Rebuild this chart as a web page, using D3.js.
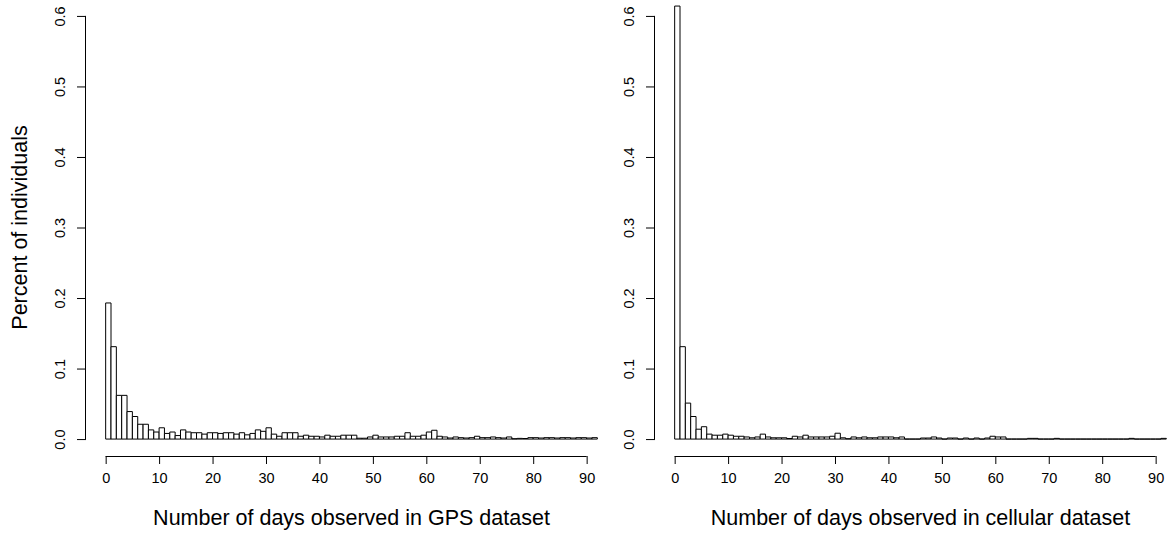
<!DOCTYPE html>
<html>
<head>
<meta charset="utf-8">
<script src="https://cdn.jsdelivr.net/npm/d3@7/dist/d3.min.js"></script>
<style>
  html, body { margin: 0; padding: 0; background: #fff; }
  svg { display: block; }
  text { font-family: "Liberation Sans", Arial, sans-serif; fill: #000; }
</style>
</head>
<body>
<svg id="chart" width="1169" height="535"></svg>
<script>
// Histogram bins: one-day bins starting at 0, 1, 2, ... 91
const binStarts = [
  0,1,2,3,4,5,6,7,8,9,10,11,12,13,14,15,16,17,18,19,20,21,22,23,24,25,26,27,28,29,
  30,31,32,33,34,35,36,37,38,39,40,41,42,43,44,45,46,47,48,49,50,51,52,53,54,55,56,57,58,59,
  60,61,62,63,64,65,66,67,68,69,70,71,72,73,74,75,76,77,78,79,80,81,82,83,84,85,86,87,88,89,
  90,91
];

// Share of individuals by number of observed days, GPS dataset
const gpsShare = [
  0.193,0.131,0.062,0.062,0.039,0.032,0.021,0.021,0.013,0.010,
  0.016,0.008,0.010,0.005,0.013,0.010,0.009,0.009,0.007,0.009,
  0.009,0.008,0.009,0.009,0.007,0.009,0.006,0.008,0.013,0.011,
  0.016,0.007,0.004,0.009,0.009,0.009,0.004,0.0055,0.004,0.004,
  0.003,0.0055,0.004,0.004,0.0055,0.0055,0.0055,0.0012,0.0012,0.003,
  0.0055,0.003,0.003,0.003,0.004,0.004,0.009,0.004,0.004,0.0055,
  0.010,0.0125,0.004,0.003,0.0015,0.003,0.002,0.0015,0.002,0.004,
  0.002,0.002,0.003,0.002,0.0015,0.003,0.0005,0.001,0.0008,0.002,
  0.002,0.0015,0.002,0.002,0.0015,0.002,0.002,0.0015,0.002,0.002,
  0.0015,0.002
];

// Share of individuals by number of observed days, cellular dataset
const cellShare = [
  0.614,0.131,0.051,0.032,0.014,0.0175,0.007,0.0055,0.0055,0.007,
  0.0055,0.004,0.004,0.003,0.0018,0.003,0.007,0.003,0.0018,0.0018,
  0.0018,0.0008,0.004,0.003,0.0055,0.003,0.003,0.003,0.003,0.004,
  0.0083,0.0018,0.0005,0.003,0.0018,0.003,0.0018,0.0018,0.003,0.003,
  0.003,0.0018,0.003,0,0,0,0.0015,0.0015,0.003,0.0015,
  0,0.0015,0.0015,0,0.0015,0,0.0015,0,0.0015,0.004,
  0.003,0.003,0,0,0,0,0.001,0.001,0,0,
  0,0.001,0,0,0,0,0,0,0,0,
  0,0,0,0,0,0.001,0,0,0,0,
  0,0.001
];

const xTicks = [0,10,20,30,40,50,60,70,80,90];
const yTicks = [0.0,0.1,0.2,0.3,0.4,0.5,0.6];
const xTitles = ["Number of days observed in GPS dataset", "Number of days observed in cellular dataset"];
const yTitle = "Percent of individuals";

const svg = d3.select("#chart");

// Each panel: x range 0..92 and y range 0..0.6, padded by 4% on each side
const xDomain = [-3.68, 95.68];
const yDomain = [-0.024, 0.624];

const panels = [
  { left: 86,  right: 617,  values: gpsShare,  title: xTitles[0], ylab: yTitle },
  { left: 655, right: 1186, values: cellShare, title: xTitles[1], ylab: null }
];

const plotTop = -1, plotBottom = 456;

panels.forEach(p => {
  const x = d3.scaleLinear().domain(xDomain).range([p.left, p.right]);
  const y = d3.scaleLinear().domain(yDomain).range([plotBottom, plotTop]);
  const g = svg.append("g");

  // bars drawn as closed paths so empty bins still show as a baseline segment
  g.selectAll("path.bar")
    .data(binStarts.map((b, i) => ({ x0: b, x1: b + 1, v: p.values[i] })))
    .join("path")
    .attr("class", "bar")
    .attr("d", d => {
      const xa = x(d.x0), xb = x(d.x1), y0 = y(0), y1 = y(d.v);
      return `M${xa},${y0}V${y1}H${xb}V${y0}Z`;
    })
    .attr("fill", "#fff")
    .attr("stroke", "#000")
    .attr("stroke-width", 1);

  // x axis
  const xAxis = d3.axisBottom(x).tickValues(xTicks).tickSize(8).tickPadding(9)
    .tickFormat(d3.format("d"));
  const gx = g.append("g").attr("transform", `translate(0,${plotBottom})`).call(xAxis);
  gx.select(".domain").attr("d", `M${x(0)},0.5H${x(90)}`).attr("stroke", "#000");
  gx.selectAll(".tick line").attr("stroke", "#000");
  gx.selectAll(".tick text")
    .attr("font-size", "14.5px")
    .attr("font-family", "Liberation Sans, Arial, sans-serif")
    .attr("fill", "#000");

  // y axis with labels turned to read bottom-to-top
  const yAxis = d3.axisLeft(y).tickValues(yTicks).tickSize(9).tickFormat(d3.format(".1f"));
  const gy = g.append("g").attr("transform", `translate(${p.left},0)`).call(yAxis);
  gy.select(".domain").attr("d", `M-0.5,${y(0)}V${y(0.6)}`).attr("stroke", "#000");
  gy.selectAll(".tick line").attr("stroke", "#000");
  gy.selectAll(".tick text")
    .attr("font-size", "14.5px")
    .attr("font-family", "Liberation Sans, Arial, sans-serif")
    .attr("fill", "#000")
    .attr("x", null).attr("dy", null)
    .attr("text-anchor", "middle")
    .attr("transform", "translate(-21,0) rotate(-90)");

  // x axis title
  g.append("text")
    .attr("x", (p.left + p.right) / 2)
    .attr("y", 525)
    .attr("text-anchor", "middle")
    .attr("font-size", "21.5px")
    .text(p.title);

  // y axis title
  if (p.ylab) {
    g.append("text")
      .attr("transform", `translate(27,${(plotTop + plotBottom) / 2}) rotate(-90)`)
      .attr("text-anchor", "middle")
      .attr("font-size", "21.5px")
      .text(p.ylab);
  }
});
</script>
</body>
</html>
